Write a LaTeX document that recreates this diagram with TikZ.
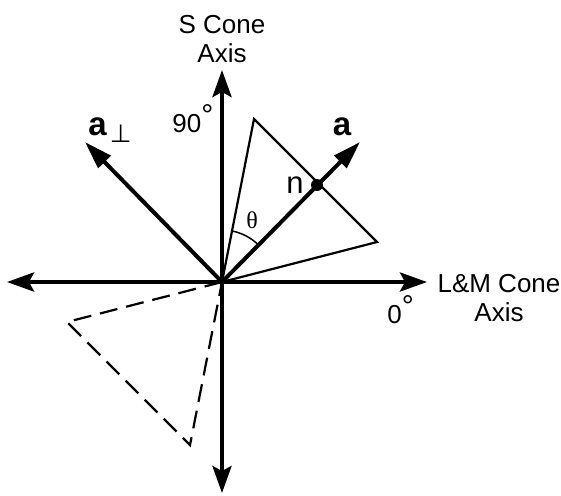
\documentclass[tikz,border=0pt]{standalone}
\usepackage{fontspec}
\setmainfont{Liberation Sans}
\newfontfamily\greekserif{Liberation Serif}
\newfontfamily\tackfont{DejaVu Sans}
\usetikzlibrary{arrows.meta}

\newcommand{\degsym}{\raisebox{3.5pt}{\fontsize{15}{15}\selectfont°}}

\begin{document}
\begin{tikzpicture}[
    x=0.5pt, y=0.5pt,
    axis/.style={line width=2pt,
                 -{Stealth[length=13.5pt, width=9.5pt, inset=2.5pt]}},
    vec/.style={line width=2pt, -{Triangle[length=14pt, width=8.5pt]}},
    tri/.style={line width=1.1pt, line join=miter},
    lbl/.style={font=\fontsize{13}{14.5}\selectfont, align=center,
                inner sep=0pt},
    vlbl/.style={font=\fontsize{16.5}{18}\selectfont\bfseries,
                 inner sep=0pt}
  ]
  \useasboundingbox (-222,-213) rectangle (339,282);

  % Points
  \coordinate (O) at (0,0);
  \coordinate (left) at (-215,0);
  \coordinate (right) at (205,0);
  \coordinate (top) at (0,212);
  \coordinate (bottom) at (0,-211);
  \coordinate (atip) at (138,140);
  \coordinate (aperptip) at (-137,140);
  \coordinate (n) at (95,97);
  \coordinate (T) at (32,163);
  \coordinate (R) at (155,40);
  \coordinate (Td) at (-32,-163);
  \coordinate (Rd) at (-155,-40);

  % Triangles
  \draw[tri] (O) -- (T) -- (R) -- cycle;
  \draw[tri, dash pattern=on 9pt off 4.5pt] (O) -- (Rd) -- (Td) -- cycle;

  % Axes
  \draw[axis] (O) -- (right);
  \draw[axis] (O) -- (left);
  \draw[axis] (O) -- (top);
  \draw[axis] (O) -- (bottom);

  % Vectors
  \draw[vec] (O) -- (atip);
  \draw[vec] (O) -- (aperptip);
  \node[circle, fill, inner sep=0pt, minimum size=6pt] (ndot) at (n) {};

  % Angle
  \draw[line width=0.75pt] (O) ++(45.4:52) arc[start angle=45.4,
    end angle=78.9, radius=52];
  \node[font=\fontsize{12}{13}\selectfont\greekserif, inner sep=0pt]
    (theta) at (30,62) {θ};

  % Labels
  \node[lbl] (slbl) at (0,243) {S Cone\\Axis};
  \node[lbl] (lmlbl) at (277,-16) {L\&M Cone\\Axis};
  \node[lbl, anchor=base west] (ninety) at (-50,150) {90\degsym};
  \node[lbl, anchor=base west] (zero) at (165,-41) {0\degsym};
  \node[vlbl, anchor=base] (albl) at (120,147) {a};
  \node[vlbl, anchor=base west] (aperplbl) at (-134,147)
    {a\hspace{1.5pt}\raisebox{-3.5pt}{\tackfont\mdseries\fontsize{12.5}{13}\selectfont ⊥}};
  \node[font=\fontsize{15.5}{17}\selectfont, inner sep=0pt, anchor=base]
    (nlbl) at (73,89) {n};
\end{tikzpicture}
\end{document}
